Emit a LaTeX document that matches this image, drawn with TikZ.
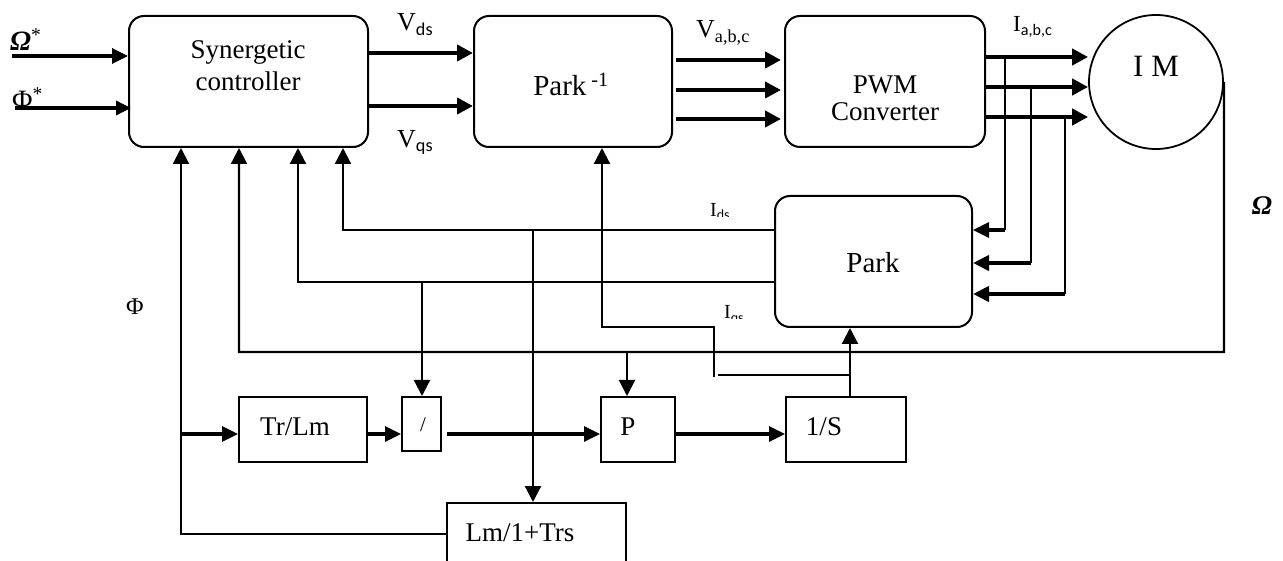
\documentclass[tikz,border=0pt]{standalone}
\usepackage{fontspec}
\setmainfont{Liberation Serif}
\newfontfamily\subsans{Carlito}
\usetikzlibrary{arrows.meta}
\begin{document}
\begin{tikzpicture}[x=1pt,y=-1pt,
  rbox/.style={draw,line width=2pt,rounded corners=15pt,inner sep=0pt},
  sbox/.style={draw,line width=2pt,inner sep=0pt},
  thinline/.style={line width=2.2pt},
  tarrow/.style={line width=2.2pt,-{Triangle[length=16pt,width=16pt]}},
  barrow/.style={line width=4.2pt,-{Triangle[length=16pt,width=16pt]}},
  marrow/.style={line width=3.2pt,-{Triangle[length=16pt,width=15pt]}},
  txt/.style={inner sep=0pt,font=\fontsize{27}{32}\selectfont},
  lbl/.style={inner sep=0pt,anchor=base west},
]
\clip (0,0) rectangle (1283,561);
\fill[white] (0,0) rectangle (1283,561);

% blocks
\node[rbox,minimum width=239pt,minimum height=131pt] (syn) at (248.5,81.5) {};
\node[rbox,minimum width=198pt,minimum height=131pt] (pinv) at (573,81.5) {};
\node[rbox,minimum width=200pt,minimum height=131pt] (pwm) at (885,81.5) {};
\node[rbox,minimum width=197pt,minimum height=131pt] (park) at (873.5,261.5) {};
\node[draw,circle,line width=1.8pt,minimum size=134pt,inner sep=0pt] (im) at (1156,82) {};
\node[sbox,minimum width=128pt,minimum height=65pt] (trlm) at (303,429.5) {};
\node[sbox,minimum width=39pt,minimum height=54pt] (div) at (421.5,424) {};
\node[sbox,minimum width=74pt,minimum height=65pt] (pb) at (638,429.5) {};
\node[sbox,minimum width=120pt,minimum height=65pt] (ints) at (846,429.5) {};
\node[sbox,minimum width=179pt,minimum height=120pt] (lmtrs) at (536.5,563) {};

% block texts
\node[inner sep=0pt,align=center,font=\fontsize{27}{32}\selectfont] (syntxt) at (248,66) {Synergetic\\controller};
\node[inner sep=0pt,font=\fontsize{29}{30}\selectfont] (pinvtxt) at (571,84) {Park\,\textsuperscript{-1}};
\node[inner sep=0pt,align=center,font=\fontsize{27}{27}\selectfont] (pwmtxt) at (885,98) {PWM\\Converter};
\node[inner sep=0pt,font=\fontsize{31}{31}\selectfont] (imtxt) at (1156,66) {I M};
\node[inner sep=0pt,font=\fontsize{29}{30}\selectfont] (parktxt) at (873,263) {Park};
\node[txt] (trlmtxt) at (295,427) {Tr/Lm};
\node[inner sep=0pt,font=\fontsize{21}{21}\selectfont] (divtxt) at (423,425) {/};
\node[txt] (pbtxt) at (628,427) {P};
\node[txt] (intstxt) at (824,427) {1/S};
\node[txt] (lmtrstxt) at (520,533) {Lm/1+Trs};

% labels
\node[lbl,font=\fontsize{28}{28}\selectfont] (lom) at (10,51) {\bfseries\itshape Ω\textsuperscript{\normalfont *}};
\node[lbl,font=\fontsize{28}{28}\selectfont] (lph) at (12,110) {Φ\textsuperscript{*}};
\node[lbl,font=\fontsize{26}{26}\selectfont] (lvds) at (397,31) {V\textsubscript{\subsans ds}};
\node[lbl,font=\fontsize{26}{26}\selectfont] (lvqs) at (397,148) {V\textsubscript{\subsans qs}};
\node[lbl,font=\fontsize{26}{26}\selectfont] (lvabc) at (696,38) {V\textsubscript{a,b,c}};
\node[lbl,font=\fontsize{23}{23}\selectfont] (liabc) at (1013,32) {I\textsubscript{\subsans a,b,c}};
\node[inner sep=0pt,font=\fontsize{27}{27}\selectfont] (lomr) at (1262,206) {\bfseries\itshape Ω};
\node[inner sep=0pt,font=\fontsize{24}{24}\selectfont] (lphi) at (135,307) {Φ};
\begin{scope}
\clip (690,190) rectangle (760,216.5);
\node[lbl,font=\fontsize{20}{20}\selectfont] (lids) at (710,216.5) {I\textsubscript{\subsans ds}};
\end{scope}
\begin{scope}
\clip (700,290) rectangle (770,319);
\node[lbl,font=\fontsize{20}{20}\selectfont] (liqs) at (724,319) {I\textsubscript{\subsans qs}};
\end{scope}

% coordinates
\coordinate (omIn) at (12,56);
\coordinate (phIn) at (15,108);
\coordinate (yVd) at (0,53);
\coordinate (yVq) at (0,106);
\coordinate (yVa1) at (0,60);
\coordinate (yVa2) at (0,90);
\coordinate (yVa3) at (0,119);
\coordinate (yIa1) at (0,57);
\coordinate (yIa2) at (0,87);
\coordinate (yIa3) at (0,117);
\coordinate (tap1) at (1005,57);
\coordinate (tap2) at (1031,87);
\coordinate (tap3) at (1065,117);
\coordinate (yP1) at (0,230);
\coordinate (yP2) at (0,263);
\coordinate (yP3) at (0,294);
\coordinate (qA) at (343,230);
\coordinate (qB) at (298,282);
\coordinate (qC) at (239,352);
\coordinate (qD) at (181,534);
\coordinate (omR) at (1224,352);
\coordinate (brDiv) at (422,282);
\coordinate (brLm) at (533,230);
\coordinate (brP) at (627,352);
\coordinate (brTr) at (181,434);
\coordinate (divOut) at (447,434);
\coordinate (thA) at (850,375);
\coordinate (thB) at (718,375);
\coordinate (thC) at (714,377);
\coordinate (thD) at (714,327);
\coordinate (thE) at (602,327);

% inputs
\draw[line width=3.4pt,-{Triangle[length=16pt,width=15pt]}] (omIn) -- (omIn -| syn.west);
\draw[line width=3.4pt,-{Triangle[length=15pt,width=14pt]},shorten >=-3pt] (phIn) -- (phIn -| syn.west);

% forward path
\draw[barrow] (syn.east |- yVd) -- (pinv.west |- yVd);
\draw[barrow] (syn.east |- yVq) -- (pinv.west |- yVq);
\draw[barrow,shorten <=3pt,shorten >=3pt] (pinv.east |- yVa1) -- (pwm.west |- yVa1);
\draw[barrow,shorten <=3pt,shorten >=3pt] (pinv.east |- yVa2) -- (pwm.west |- yVa2);
\draw[barrow,shorten <=3pt,shorten >=3pt] (pinv.east |- yVa3) -- (pwm.west |- yVa3);
\draw[barrow] (pwm.east |- yIa1) -- (im.west |- yIa1);
\draw[barrow] (pwm.east |- yIa2) -- (im.west |- yIa2);
\draw[barrow] (pwm.east |- yIa3) -- (im.west |- yIa3);

% current taps to Park
\draw[thinline] (tap1) -- (tap1 |- yP1);
\draw[thinline] (tap2) -- (tap2 |- yP2);
\draw[thinline] (tap3) -- (tap3 |- yP3);
\draw[marrow] (tap1 |- yP1) -- (park.east |- yP1);
\draw[line width=3.8pt,-{Triangle[length=16pt,width=15pt]}] (tap2 |- yP2) -- (park.east |- yP2);
\draw[line width=3.8pt,-{Triangle[length=16pt,width=15pt]}] (tap3 |- yP3) -- (park.east |- yP3);

% feedback to controller
\draw[tarrow] (park.west |- qA) -- (qA) -- (qA |- syn.south);
\draw[tarrow] (park.west |- qB) -- (qB) -- (qB |- syn.south);
\draw[tarrow] (im.east) -- (omR) -- (qC) -- (qC |- syn.south);
\draw[tarrow] (lmtrs.west |- qD) -- (qD) -- (qD |- syn.south);

% branches
\draw[tarrow] (brDiv) -- (brDiv |- div.north);
\draw[tarrow] (brLm) -- (brLm |- lmtrs.north);
\draw[tarrow] (brP) -- (brP |- pb.north);

% lower row
\draw[marrow] (brTr) -- (trlm.west |- brTr);
\draw[marrow] (trlm.east |- brTr) -- (div.west |- brTr);
\draw[marrow] (divOut) -- (pb.west |- brTr);
\draw[marrow] (pb.east |- brTr) -- (ints.west |- brTr);

% angle
\draw[tarrow] (thA |- ints.north) -- (thA |- park.south);
\draw[thinline] (thA) -- (thB);
\draw[tarrow] (thC) -- (thD) -- (thE) -- (thE |- pinv.south);
\end{tikzpicture}
\end{document}
